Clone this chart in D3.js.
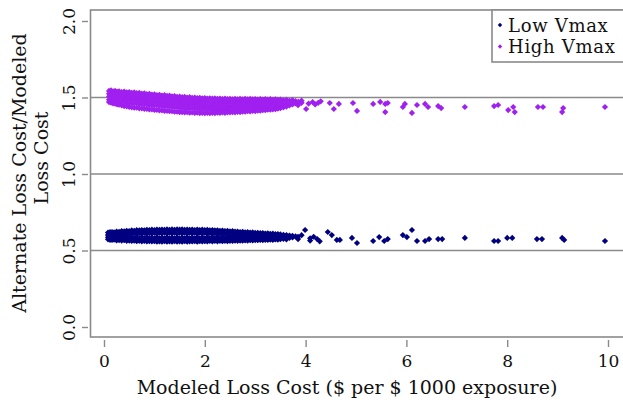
<!DOCTYPE html>
<html>
<head>
<meta charset="utf-8">
<script src="https://cdn.jsdelivr.net/npm/d3@7"></script>
<style>
  html, body { margin: 0; padding: 0; background: #fff; }
  svg { display: block; font-family: "DejaVu Serif", serif; }
</style>
</head>
<body>
<svg id="chart" width="623" height="403"></svg>
<script>
// Modeled loss cost (x) against the ratio of alternate to modeled loss cost (y)
const seriesNames = ["Low Vmax", "High Vmax"];
const seriesColors = ["#000080", "#a020f0"];

// Low Vmax: densely sampled part, one row of ratios per modeled-cost value
const lowDenseX = [
  0.08,0.12,0.16,0.20,0.25,0.30,0.35,0.40,0.45,0.50,0.55,0.60,0.65,0.70,0.75,0.80,0.85,0.90,0.95,1.00,
  1.05,1.10,1.15,1.20,1.25,1.30,1.35,1.40,1.45,1.50,1.55,1.60,1.65,1.70,1.75,1.80,1.85,1.90,1.95,2.00,
  2.05,2.10,2.15,2.20,2.25,2.30,2.35,2.40,2.45,2.50,2.55,2.60,2.65,2.70,2.75,2.80,2.85,2.90,2.95,3.00,
  3.05,3.10,3.15,3.20,3.25,3.30,3.35,3.40,3.45,3.50,3.56,3.62,3.68,3.74,3.80
];
const lowDenseY = [
  [0.617,0.601,0.587,0.573],[0.620,0.604,0.585,0.570],[0.621,0.599,0.590,0.569],[0.619,0.606,0.583,0.571],
  [0.624,0.602,0.588,0.566],[0.622,0.608,0.584,0.568],[0.627,0.603,0.589,0.565],[0.625,0.610,0.582,0.567],
  [0.629,0.605,0.587,0.563],[0.627,0.611,0.581,0.565],[0.631,0.606,0.586,0.562],[0.629,0.613,0.580,0.564],
  [0.633,0.607,0.585,0.561],[0.631,0.614,0.579,0.563],[0.634,0.608,0.585,0.560],[0.632,0.615,0.580,0.562],
  [0.635,0.609,0.586,0.559],[0.633,0.615,0.579,0.561],[0.636,0.610,0.585,0.559],[0.634,0.616,0.580,0.561],
  [0.637,0.610,0.586,0.558],[0.635,0.616,0.579,0.560],[0.637,0.611,0.585,0.558],[0.635,0.617,0.580,0.561],
  [0.638,0.611,0.586,0.558],[0.635,0.617,0.579,0.560],[0.638,0.611,0.585,0.558],[0.635,0.617,0.580,0.561],
  [0.638,0.611,0.586,0.558],[0.636,0.617,0.579,0.560],[0.638,0.611,0.585,0.558],[0.635,0.617,0.580,0.561],
  [0.637,0.611,0.586,0.558],[0.635,0.617,0.579,0.560],[0.637,0.611,0.585,0.559],[0.634,0.616,0.580,0.561],
  [0.637,0.610,0.586,0.558],[0.634,0.616,0.579,0.561],[0.636,0.610,0.585,0.559],[0.634,0.616,0.580,0.561],
  [0.635,0.609,0.586,0.559],[0.632,0.615,0.580,0.562],[0.634,0.608,0.585,0.560],[0.631,0.614,0.579,0.562],
  [0.632,0.607,0.585,0.560],[0.629,0.612,0.580,0.563],[0.630,0.606,0.585,0.561],[0.627,0.611,0.580,0.563],
  [0.628,0.605,0.586,0.561],[0.625,0.609,0.580,0.563],[0.626,0.604,0.585,0.562],[0.623,0.607,0.581,0.564],
  [0.624,0.602,0.586,0.563],[0.621,0.605,0.581,0.565],[0.622,0.601,0.586,0.564],[0.619,0.603,0.582,0.566],
  [0.620,0.599,0.587,0.565],[0.617,0.601,0.582,0.567],[0.618,0.598,0.587,0.566],[0.615,0.600,0.583,0.568],
  [0.616,0.597,0.588,0.567],[0.613,0.599,0.584,0.569],[0.614,0.596,0.588,0.568],[0.611,0.598,0.584,0.570],
  [0.612,0.595,0.589,0.569],[0.609,0.597,0.585,0.571],[0.610,0.594,0.589,0.570],[0.607,0.596,0.585,0.572],
  [0.608,0.593,0.589,0.571],[0.605,0.590,0.574],[0.603,0.586,0.576],[0.601,0.589,0.573],
  [0.598,0.582],[0.596,0.585],[0.592]
];
// Low Vmax: scattered higher-cost locations
const lowSparseX = [
  3.85,3.85,3.92,3.99,4.09,4.09,4.16,4.23,4.28,
  4.44,4.52,4.62,4.68,4.92,5.02,5.34,5.46,5.56,5.63,
  5.93,6.01,6.11,6.21,6.37,6.45,6.63,6.71,7.16,
  7.74,7.82,8.00,8.10,8.59,8.69,9.09,9.13,9.94
];
const lowSparseY = [
  0.590,0.575,0.600,0.634,0.580,0.565,0.590,0.575,0.560,
  0.621,0.601,0.569,0.569,0.582,0.549,0.562,0.588,0.562,0.575,
  0.601,0.588,0.634,0.562,0.562,0.575,0.575,0.575,0.582,
  0.562,0.562,0.582,0.582,0.575,0.575,0.582,0.569,0.562
];

// High Vmax: densely sampled part
const highDenseX = [
  0.10,0.14,0.18,0.22,0.26,0.30,0.35,0.40,0.45,0.50,0.55,0.60,0.65,0.70,0.75,0.80,0.85,0.90,0.95,1.00,
  1.05,1.10,1.15,1.20,1.25,1.30,1.35,1.40,1.45,1.50,1.55,1.60,1.65,1.70,1.75,1.80,1.85,1.90,1.95,2.00,
  2.05,2.10,2.15,2.20,2.25,2.30,2.35,2.40,2.45,2.50,2.55,2.60,2.65,2.70,2.75,2.80,2.85,2.90,2.95,3.00,
  3.05,3.10,3.15,3.20,3.25,3.30,3.35,3.40,3.45,3.50,3.56,3.62,3.68,3.74,3.80,3.86,3.92
];
const highDenseY = [
  [1.543,1.524,1.507,1.486,1.470],[1.546,1.521,1.502,1.483,1.466],[1.540,1.526,1.498,1.479,1.462],
  [1.543,1.518,1.505,1.476,1.459],[1.538,1.522,1.496,1.480,1.455],[1.541,1.515,1.499,1.472,1.453],
  [1.536,1.519,1.493,1.469,1.449],[1.539,1.512,1.497,1.474,1.444],[1.534,1.516,1.488,1.466,1.442],
  [1.536,1.509,1.491,1.462,1.438],[1.531,1.513,1.485,1.467,1.436],[1.533,1.506,1.489,1.459,1.433],
  [1.528,1.510,1.481,1.463,1.433],[1.530,1.503,1.486,1.456,1.429],[1.525,1.507,1.478,1.460,1.429],
  [1.527,1.500,1.482,1.453,1.426],[1.522,1.504,1.475,1.457,1.426],[1.524,1.497,1.479,1.450,1.422],
  [1.519,1.501,1.472,1.454,1.423],[1.521,1.494,1.476,1.447,1.419],[1.516,1.498,1.469,1.451,1.419],
  [1.518,1.491,1.473,1.444,1.416],[1.513,1.495,1.466,1.448,1.416],[1.515,1.488,1.470,1.441,1.413],
  [1.510,1.492,1.463,1.445,1.413],[1.512,1.485,1.467,1.438,1.410],[1.507,1.489,1.460,1.442,1.410],
  [1.509,1.482,1.464,1.435,1.407],[1.504,1.486,1.457,1.439,1.407],[1.506,1.479,1.461,1.432,1.404],
  [1.502,1.483,1.455,1.436,1.405],[1.504,1.477,1.459,1.430,1.403],[1.500,1.481,1.453,1.434,1.404],
  [1.502,1.475,1.457,1.428,1.401],[1.498,1.479,1.451,1.432,1.402],[1.500,1.473,1.455,1.426,1.400],
  [1.496,1.477,1.449,1.430,1.401],[1.498,1.471,1.453,1.424,1.398],[1.494,1.475,1.447,1.428,1.400],
  [1.496,1.470,1.451,1.423,1.397],[1.493,1.474,1.446,1.427,1.399],[1.495,1.469,1.450,1.422,1.397],
  [1.492,1.473,1.445,1.426,1.400],[1.494,1.468,1.449,1.421,1.398],[1.491,1.472,1.444,1.425,1.401],
  [1.493,1.467,1.448,1.420,1.399],[1.490,1.471,1.443,1.424,1.402],[1.492,1.466,1.447,1.419,1.400],
  [1.489,1.470,1.442,1.423,1.403],[1.491,1.465,1.446,1.419,1.402],[1.488,1.469,1.442,1.424,1.404],
  [1.491,1.465,1.447,1.420,1.403],[1.488,1.470,1.443,1.425,1.406],[1.491,1.466,1.448,1.421,1.405],
  [1.488,1.471,1.444,1.426,1.408],[1.491,1.467,1.449,1.422,1.407],[1.488,1.472,1.445,1.427,1.410],
  [1.491,1.468,1.450,1.423,1.409],[1.488,1.473,1.446,1.428,1.412],[1.490,1.469,1.451,1.425,1.411],
  [1.487,1.474,1.447,1.430,1.414],[1.490,1.470,1.452,1.427,1.414],[1.487,1.475,1.448,1.432,1.417],
  [1.489,1.471,1.453,1.429,1.417],[1.486,1.476,1.449,1.434,1.420],[1.489,1.472,1.454,1.431,1.420],
  [1.485,1.466,1.450,1.436,1.423],[1.488,1.471,1.455,1.433,1.424],[1.484,1.465,1.451,1.438,1.427],
  [1.487,1.468,1.447,1.430],[1.482,1.463,1.452,1.436],[1.485,1.460,1.441],[1.479,1.466,1.448],
  [1.483,1.455],[1.476,1.462],[1.471],[1.479]
];
// High Vmax: scattered higher-cost locations
const highSparseX = [
  3.85,3.85,3.92,4.01,4.06,4.14,4.19,4.25,4.30,
  4.48,4.56,4.66,4.94,5.02,5.34,5.48,5.58,5.58,5.63,
  5.93,5.97,6.11,6.21,6.37,6.43,6.63,6.69,7.16,
  7.74,7.82,8.02,8.12,8.15,8.61,8.71,9.09,9.11,9.94
];
const highSparseY = [
  1.470,1.450,1.465,1.425,1.460,1.470,1.455,1.465,1.475,
  1.464,1.425,1.458,1.464,1.412,1.458,1.471,1.458,1.405,1.464,
  1.438,1.458,1.399,1.451,1.458,1.438,1.444,1.431,1.438,
  1.444,1.451,1.418,1.438,1.405,1.438,1.438,1.405,1.431,1.438
];

const xTicks = [0, 2, 4, 6, 8, 10];
const yTicks = [0, 0.5, 1, 1.5, 2];
const refLines = [0.5, 1, 1.5];
const xTitle = "Modeled Loss Cost ($ per $ 1000 exposure)";
const yTitle = ["Alternate Loss Cost/Modeled", "Loss Cost"];

const svg = d3.select("#chart");
const frame = { left: 90.5, top: 10, right: 640, bottom: 337 };
const x = d3.scaleLinear().domain([0, 10]).range([104, 608]);
const y = d3.scaleLinear().domain([0, 2]).range([327, 21]);
const gray = "#8a8a8a";
const ink = "#111";

// diamond marker (square turned 45 degrees)
const diamond = r => `M0,${-r}L${r},0L0,${r}L${-r},0Z`;

// horizontal reference lines
svg.append("g").selectAll("line").data(refLines).join("line")
  .attr("x1", frame.left).attr("x2", frame.right)
  .attr("y1", d => y(d)).attr("y2", d => y(d))
  .attr("stroke", gray).attr("stroke-width", 1.6);

// flatten dense rows and scattered points into [x, y] pairs
function points(denseX, denseY, sparseX, sparseY) {
  const pts = [];
  denseX.forEach((v, i) => denseY[i].forEach(r => pts.push([v, r])));
  sparseX.forEach((v, i) => pts.push([v, sparseY[i]]));
  return pts;
}
const series = [
  { pts: points(lowDenseX, lowDenseY, lowSparseX, lowSparseY), color: seriesColors[0] },
  { pts: points(highDenseX, highDenseY, highSparseX, highSparseY), color: seriesColors[1] }
];
series.forEach(s => {
  svg.append("g").selectAll("path").data(s.pts).join("path")
    .attr("d", diamond(3.1))
    .attr("transform", d => `translate(${x(d[0])},${y(d[1])})`)
    .attr("fill", s.color);
});

// plot frame
svg.append("rect")
  .attr("x", frame.left).attr("y", frame.top)
  .attr("width", frame.right - frame.left).attr("height", frame.bottom - frame.top)
  .attr("fill", "none").attr("stroke", gray).attr("stroke-width", 1.6);

// x axis: ticks only, set just below the frame
const xAxis = svg.append("g")
  .attr("transform", `translate(0,${frame.bottom + 3})`)
  .call(d3.axisBottom(x).tickValues(xTicks).tickFormat(d3.format("d"))
    .tickSizeInner(7).tickSizeOuter(0).tickPadding(8));
xAxis.select(".domain").remove();
xAxis.selectAll("line").attr("stroke", gray).attr("stroke-width", 1.4);
xAxis.selectAll("text").attr("font-family", "DejaVu Serif").attr("font-size", 17).attr("fill", ink);

// y axis: ticks only, labels turned to read upwards
const yAxis = svg.append("g")
  .attr("transform", `translate(${frame.left - 2.5},0)`)
  .call(d3.axisLeft(y).tickValues(yTicks).tickFormat(d3.format(".1f"))
    .tickSizeInner(6).tickSizeOuter(0));
yAxis.select(".domain").remove();
yAxis.selectAll("line").attr("stroke", gray).attr("stroke-width", 1.4);
yAxis.selectAll("text")
  .attr("transform", "rotate(-90)")
  .attr("x", 0).attr("y", -13).attr("dy", 0)
  .attr("text-anchor", "middle")
  .attr("font-family", "DejaVu Serif").attr("font-size", 17).attr("fill", ink);

// axis titles
svg.append("text")
  .attr("x", 347).attr("y", 394)
  .attr("text-anchor", "middle")
  .attr("font-size", 19).attr("fill", ink)
  .text(xTitle);

const yTitlePos = [[26, 173], [48, 158]];
yTitle.forEach((t, i) => {
  svg.append("text")
    .attr("transform", `translate(${yTitlePos[i][0]},${yTitlePos[i][1]}) rotate(-90)`)
    .attr("text-anchor", "middle")
    .attr("font-size", 19).attr("fill", ink)
    .text(t);
});

// legend
const legend = svg.append("g");
legend.append("rect")
  .attr("x", 492).attr("y", frame.top)
  .attr("width", 200).attr("height", 52)
  .attr("fill", "#fff").attr("stroke", gray).attr("stroke-width", 1.6);
seriesNames.forEach((name, i) => {
  const cy = 25 + i * 21.5;
  legend.append("path")
    .attr("d", diamond(2.2))
    .attr("transform", `translate(500,${cy})`)
    .attr("fill", seriesColors[i]);
  legend.append("text")
    .attr("x", 508).attr("y", cy + 6.5)
    .attr("font-size", 18).attr("letter-spacing", 0.7).attr("fill", ink)
    .text(name);
});
</script>
</body>
</html>
